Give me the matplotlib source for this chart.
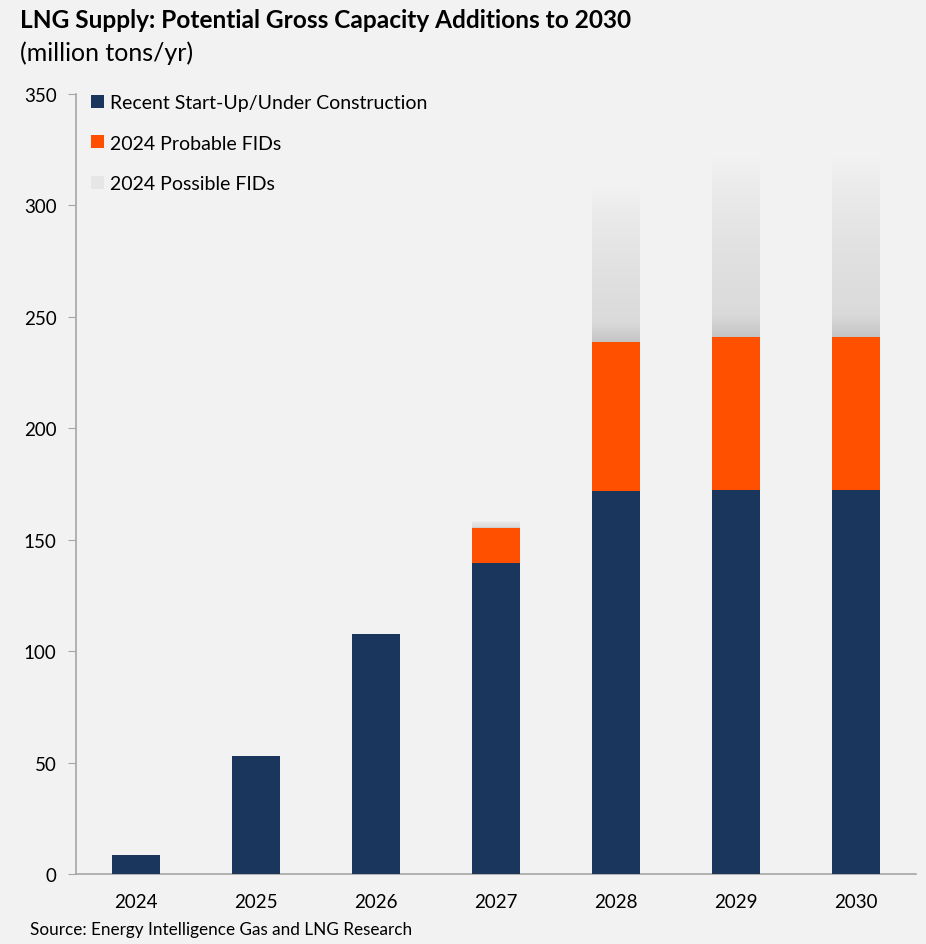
import matplotlib
matplotlib.use("Agg")
import matplotlib.pyplot as plt
import numpy as np
from matplotlib.patches import Patch
from matplotlib.colors import LinearSegmentedColormap

years = ["2024", "2025", "2026", "2027", "2028", "2029", "2030"]
construction = [8.5, 53, 107.7, 139.5, 171.9, 172.3, 172.3]
probable = [0, 0, 0, 15.8, 66.8, 68.7, 68.7]
possible = [0, 0, 0, 3.2, 71, 82, 82]

NAVY = "#1b365d"
ORANGE = "#ff5000"
BG = "#f2f2f2"
FONT = ["Lato", "DejaVu Sans"]
plt.rcParams['font.family'] = FONT

fig = plt.figure(figsize=(9.26, 9.45), dpi=100, facecolor=BG)
ax = fig.add_axes([76/926, 1-875/945, 840/926, 780/945])
ax.set_facecolor(BG)

x = np.arange(len(years))
w = 0.4
ax.bar(x, construction, width=w, color=NAVY, zorder=3)
bottom2 = np.array(construction)
ax.bar(x, probable, width=w, bottom=bottom2, color=ORANGE, zorder=3)
bottom3 = bottom2 + np.array(probable)

cmap = LinearSegmentedColormap.from_list("g", [(0, "#c4c4c4"), (0.12, "#dadada"),
                                               (0.5, "#e2e2e2"), (0.85, "#ececec"), (1.0, "#f3f3f3")])
grad = np.linspace(0, 1, 256).reshape(-1, 1)
bars3 = ax.bar(x, possible, width=w, bottom=bottom3, color="none", zorder=3)
for b in bars3:
    if b.get_height() <= 0:
        continue
    x0, y0 = b.get_x(), b.get_y()
    im = ax.imshow(grad, extent=[x0, x0 + b.get_width(), y0, y0 + b.get_height()],
                   origin="lower", cmap=cmap, aspect="auto", zorder=3, vmin=0, vmax=1)
    im.set_clip_path(b)

ax.set_xlim(-0.5, 6.5)
ax.set_ylim(0, 350)
ax.set_yticks(np.arange(0, 351, 50))
ax.set_xticks(x)
ax.set_xticklabels(years)
for s in ["top", "right"]:
    ax.spines[s].set_visible(False)
for s in ["left", "bottom"]:
    ax.spines[s].set_color("#a6a6a6")
    ax.spines[s].set_linewidth(1.2)
ax.tick_params(axis="y", length=6, color="#a6a6a6", labelsize=13.5, pad=8, labelcolor="#000000")
ax.tick_params(axis="x", length=0, labelsize=13.5, pad=14, labelcolor="#000000")

handles = [Patch(facecolor=NAVY, label="Recent Start-Up/Under Construction"),
           Patch(facecolor=ORANGE, label="2024 Probable FIDs"),
           Patch(facecolor="#e6e6e6", label="2024 Possible FIDs")]
leg = ax.legend(handles=handles, loc="upper left", bbox_to_anchor=(-0.003, 1.022), frameon=False,
                fontsize=14, handlelength=0.65, handleheight=0.65, handletextpad=0.35,
                labelspacing=1.2)

fig.text(20/926, 1-20/945, "LNG Supply: Potential Gross Capacity Additions to 2030",
         fontsize=17.6, fontweight="bold", ha="left", va="center")
fig.text(20/926, 1-53/945, "(million tons/yr)", fontsize=18, ha="left", va="center")
fig.text(30/926, 1-930/945, "Source: Energy Intelligence Gas and LNG Research",
         fontsize=12.3, ha="left", va="center")

fig.savefig("out.png", dpi=100, facecolor=BG)
